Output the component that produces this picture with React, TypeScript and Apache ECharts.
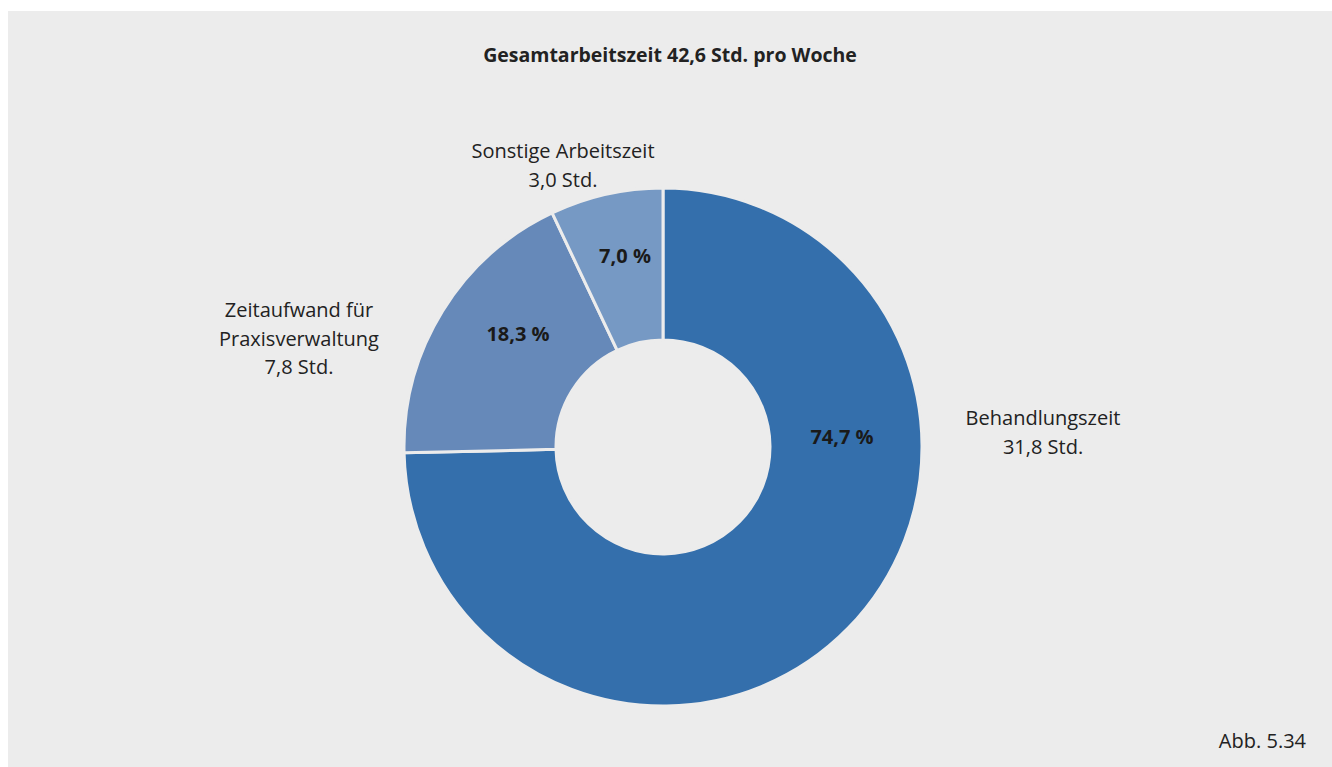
import React, { useEffect, useRef } from "react";
import * as echarts from "echarts";

const title = "Gesamtarbeitszeit 42,6 Std. pro Woche";
const figureNote = "Abb. 5.34";
const categories = ["Behandlungszeit", "Zeitaufwand für\nPraxisverwaltung", "Sonstige Arbeitszeit"];
const hours = [31.8, 7.8, 3.0];
const percents = [74.7, 18.3, 7.0];
const colors = ["#346fac", "#6689b9", "#7699c4"];

const fmt = (v: number) => v.toFixed(1).replace(".", ",");

export default function App() {
  const ref = useRef<HTMLDivElement>(null);
  useEffect(() => {
    if (!ref.current) return;
    const chart = echarts.init(ref.current, null, { renderer: "svg" });
    const cx = 655;
    const cy = 436;
    const innerOffsets = [
      [187, -11],
      [-137, -114],
      [-30, -192],
    ];
    const outerOffsets = [
      [388, -15],
      [-356, -109],
      [-92, -282],
    ];
    const font = "'Open Sans', 'Noto Sans', sans-serif";
    const data = categories.map((c, i) => ({ name: c, value: hours[i] }));
    chart.setOption({
      animation: false,
      backgroundColor: "#ececec",
      title: {
        text: title,
        left: "center",
        top: 28,
        textStyle: { fontFamily: font, fontSize: 19.5, fontWeight: "bold", color: "#222" },
      },
      graphic: [
        {
          type: "text",
          right: 26,
          top: 719,
          style: { text: figureNote, fontFamily: font, fontSize: 20, fill: "#222" },
        },
      ],
      series: [
        {
          type: "pie",
          center: [cx, cy],
          radius: [107, 259],
          startAngle: 90,
          clockwise: true,
          silent: true,
          data: data.map((d, i) => ({ ...d, itemStyle: { color: colors[i] } })),
          itemStyle: { borderColor: "#ececec", borderWidth: 3 },
          label: {
            show: true,
            position: "inside",
            formatter: (p: any) => fmt(percents[p.dataIndex]) + " %",
            fontFamily: font,
            fontSize: 20,
            fontWeight: "bold",
            color: "#1a1a1a",
          },
          labelLine: { show: false },
          labelLayout: (p: any) => ({
            x: cx + innerOffsets[p.dataIndex][0] - 8,
            y: cy + innerOffsets[p.dataIndex][1],
            align: "center",
            verticalAlign: "middle",
          }),
        },
        {
          type: "pie",
          center: [cx, cy],
          radius: [107, 259],
          startAngle: 90,
          clockwise: true,
          silent: true,
          data,
          itemStyle: { color: "rgba(0,0,0,0)", borderWidth: 0 },
          label: {
            show: true,
            position: "outside",
            formatter: (p: any) => p.name + "\n" + fmt(hours[p.dataIndex]) + " Std.",
            fontFamily: font,
            fontSize: 20,
            lineHeight: 28.5,
            align: "center",
            color: "#222",
          },
          labelLine: { show: false },
          labelLayout: (p: any) => ({
            x: cx + outerOffsets[p.dataIndex][0] - 8,
            y: cy + outerOffsets[p.dataIndex][1],
            align: "center",
            verticalAlign: "middle",
          }),
        },
      ],
    });
    return () => chart.dispose();
  }, []);
  return (
    <div
      ref={ref}
      style={{ position: "absolute", left: 8, top: 11, width: 1324, height: 756 }}
    />
  );
}
